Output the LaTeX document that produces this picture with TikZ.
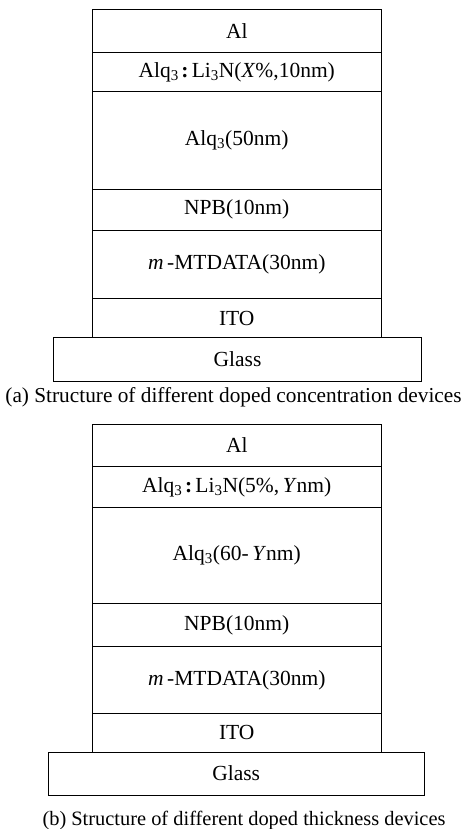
\documentclass[tikz,border=0pt]{standalone}
\usepackage{fontspec}
\setmainfont{Liberation Serif}
\newcommand{\dopecolon}{\hspace{0.12em}\textbf{:}\hspace{0.15em}}
\begin{document}
\begin{tikzpicture}[x=1pt,y=-1pt,
  layer/.style={draw=black,line width=0.9pt,rectangle,inner sep=0pt,
    minimum width=288.5pt,font=\fontsize{21.5}{24}\selectfont},
  glass/.style={draw=black,line width=0.9pt,rectangle,inner sep=0pt,
    font=\fontsize{21.5}{24}\selectfont},
  caption/.style={inner sep=0pt,font=\fontsize{21.3}{24}\selectfont}]
\useasboundingbox (0,0) rectangle (466,829);
% layer stack (a): rows given by top and bottom edges
\def\lay#1#2#3#4{\node[layer,minimum height=#3-#2] (#1) at (236.75,{(#2+#3)/2}) {#4};}
\lay{aAl}{9.3}{52}{Al}
\lay{aDop}{52}{91.7}{Alq\textsubscript{3}\dopecolon Li\textsubscript{3}N(\textit{X}\%,10nm)}
\lay{aAlq}{91.7}{189.3}{Alq\textsubscript{3}(50nm)}
\lay{aNPB}{189.3}{230}{NPB(10nm)}
\lay{aMT}{230}{298.7}{\textit{m}\,-MTDATA(30nm)}
\lay{aITO}{298.7}{337.3}{ITO}
\node[glass,minimum width=368.4pt,minimum height=44.4pt] (aGlass) at (237.5,359.5) {Glass};
\node[caption] (aCap) at (233.5,397) {(a) Structure of different doped concentration devices};
% layer stack (b)
\lay{bAl}{424}{466.7}{Al}
\lay{bDop}{466.7}{507.7}{Alq\textsubscript{3}\dopecolon Li\textsubscript{3}N(5\%,\,\textit{Y}nm)}
\lay{bAlq}{507.7}{603.7}{Alq\textsubscript{3}(60-\,\textit{Y}nm)}
\lay{bNPB}{603.7}{646}{NPB(10nm)}
\lay{bMT}{646}{713.7}{\textit{m}\,-MTDATA(30nm)}
\lay{bITO}{713.7}{752}{ITO}
\node[glass,minimum width=375.7pt,minimum height=43pt] (bGlass) at (236.15,773.5) {Glass};
\node[caption,font=\fontsize{20.4}{23}\selectfont] (bCap) at (244,820) {(b) Structure of different doped thickness devices};
\end{tikzpicture}
\end{document}
